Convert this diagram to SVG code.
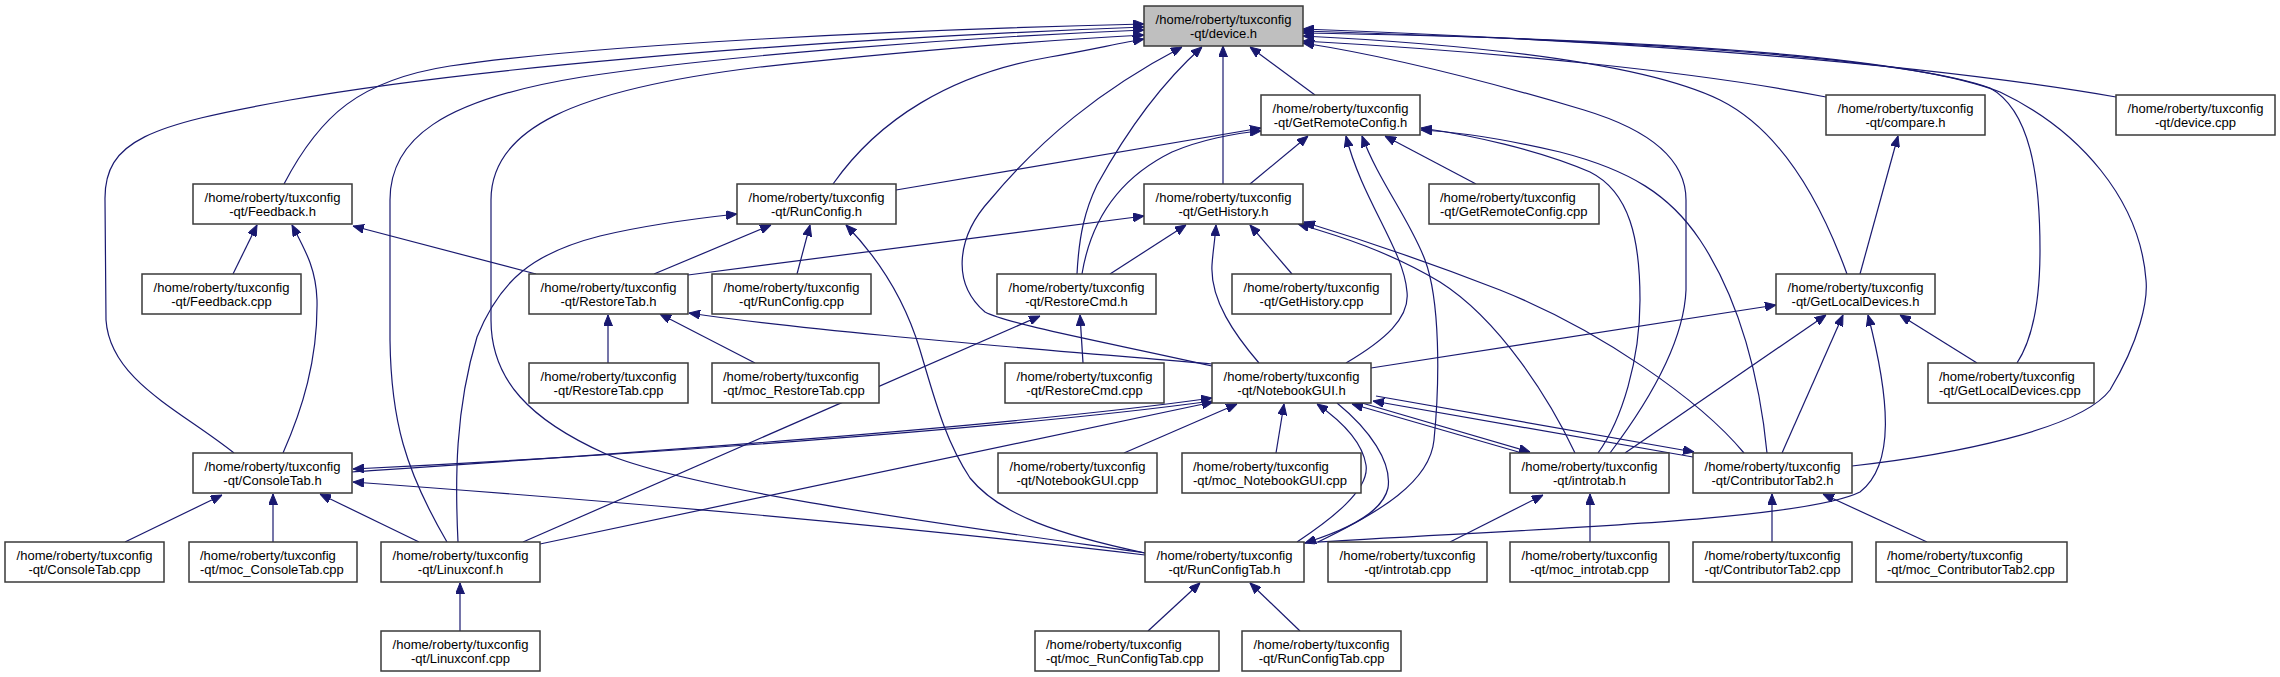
<svg xmlns="http://www.w3.org/2000/svg" width="2280" height="677" viewBox="0 0 2280 677">
<style>
.n rect{fill:#ffffff;stroke:#3a3a3a;stroke-width:1.5}
.n text{font-family:"Liberation Sans",Arial,sans-serif;font-size:13px;fill:#000000}
.c text{text-anchor:middle}
.e path{fill:none;stroke:#191970;stroke-width:1.2;marker-end:url(#arr)}
</style>
<defs>
<marker id="arr" markerUnits="userSpaceOnUse" viewBox="0 0 11 9" markerWidth="11" markerHeight="9" refX="11" refY="4.5" orient="auto">
<path d="M0,0 L11,4.5 L0,9 Z" fill="#191970" stroke="#191970" stroke-width="1"/>
</marker>
</defs>
<rect x="0" y="0" width="2280" height="677" fill="#ffffff"/>
<g id="edges" class="e">
<path d="M284,184 C320,115 360,80 450,66 C600,44 900,30 1144,24"/>
<path d="M234,453 C180,410 110,380 106,320 L105,200 C104,140 150,125 290,100 C450,72 750,42 1144,27"/>
<path d="M447,542 C405,470 391,420 390,340 L390,200 C390,140 440,100 582,77 C720,56 950,38 1144,30"/>
<path d="M1145,553 C950,525 700,492 606,454 C530,420 491,380 491,320 L491,200 C491,130 570,90 760,67 C900,52 1050,40 1144,35"/>
<path d="M833,184 C878,120 950,74 1050,57 C1090,50 1120,43 1144,39"/>
<path d="M1212,366 C1120,345 1010,325 985,312 C950,282 958,235 990,200 C1040,140 1100,90 1182,47"/>
<path d="M1077,274 C1079,235 1085,210 1097,185 C1130,125 1165,80 1202,47"/>
<path d="M1223,184 L1223,46"/>
<path d="M1315,95 L1250,47"/>
<path d="M1826,97 C1700,72 1500,52 1303,41"/>
<path d="M2116,97 C1960,70 1700,44 1303,29"/>
<path d="M1847,274 C1820,200 1780,130 1720,100 C1650,66 1500,46 1303,36"/>
<path d="M2017,363 C2032,340 2040,300 2040,250 C2040,175 2030,110 1990,88 C1900,55 1600,40 1303,31"/>
<path d="M1610,453 C1650,400 1684,340 1686,290 L1686,200 C1686,160 1650,130 1584,110 C1500,85 1400,58 1303,43"/>
<path d="M1852,466 C1950,455 2080,430 2110,390 C2140,340 2148,300 2146,280 C2140,200 2080,130 2000,92 C1900,52 1600,38 1303,33"/>
<path d="M896,190 L1261,128"/>
<path d="M1082,274 C1090,225 1115,180 1172,152 C1200,140 1235,133 1261,131"/>
<path d="M1250,184 L1308,136"/>
<path d="M1476,184 L1385,136"/>
<path d="M1346,363 C1385,340 1410,318 1407,292 C1404,250 1362,200 1346,136"/>
<path d="M1318,542 C1380,512 1430,482 1434,440 C1440,380 1440,300 1425,260 C1410,220 1378,180 1362,136"/>
<path d="M1598,453 C1622,420 1640,360 1640,300 C1640,240 1630,192 1590,172 C1540,150 1470,135 1421,128"/>
<path d="M1767,453 C1760,380 1740,300 1700,240 C1670,195 1630,170 1560,152 C1500,138 1460,132 1421,130"/>
<path d="M1860,274 L1898,136"/>
<path d="M233,274 L257,225"/>
<path d="M536,274 L353,226"/>
<path d="M283,453 C302,410 318,360 317,300 C316,268 305,250 292,225"/>
<path d="M654,274 L771,225"/>
<path d="M797,274 L810,225"/>
<path d="M458,542 C455,480 455,410 477,337 C500,280 533,253 600,236 C650,224 700,218 737,214"/>
<path d="M1145,553 C1060,535 1000,515 970,478 C945,440 935,400 920,350 C905,300 880,260 846,225"/>
<path d="M688,275 L1144,216"/>
<path d="M1110,274 L1186,225"/>
<path d="M1292,274 L1250,225"/>
<path d="M1259,363 C1235,335 1210,300 1212,265 C1213,250 1215,240 1216,225"/>
<path d="M1575,453 C1550,400 1500,320 1440,282 C1390,252 1340,236 1298,224"/>
<path d="M1744,453 C1700,400 1600,330 1500,290 C1410,255 1350,236 1304,222"/>
<path d="M608,363 L608,315"/>
<path d="M755,363 L660,314"/>
<path d="M1212,364 C1000,346 800,330 689,313"/>
<path d="M1083,363 L1080,315"/>
<path d="M523,542 L1040,316"/>
<path d="M1371,368 L1776,305"/>
<path d="M1625,453 L1826,315"/>
<path d="M1782,453 L1843,315"/>
<path d="M1304,543 C1500,530 1800,522 1860,492 C1895,465 1890,400 1868,315"/>
<path d="M1977,363 L1900,315"/>
<path d="M1124,453 L1237,404"/>
<path d="M1276,453 L1284,404"/>
<path d="M352,472 C600,455 1000,428 1212,398"/>
<path d="M1212,401 C1000,430 600,457 353,469"/>
<path d="M540,544 L1213,402"/>
<path d="M1297,542 C1330,520 1370,490 1366,465 C1362,440 1340,420 1317,404"/>
<path d="M1337,403 C1370,430 1392,462 1388,488 C1382,515 1340,532 1305,543"/>
<path d="M1522,453 L1352,404"/>
<path d="M1362,403 L1530,452"/>
<path d="M1693,457 L1373,401"/>
<path d="M1376,396 L1694,452"/>
<path d="M125,542 L222,495"/>
<path d="M273,542 L273,494"/>
<path d="M419,542 L320,494"/>
<path d="M1145,555 C900,526 600,500 353,482"/>
<path d="M460,631 L460,583"/>
<path d="M1450,542 L1543,495"/>
<path d="M1590,542 L1590,494"/>
<path d="M1772,542 L1772,494"/>
<path d="M1927,542 L1823,494"/>
<path d="M1148,631 L1200,583"/>
<path d="M1300,631 L1250,583"/>
</g>
<g id="device_h" class="n c"><rect x="1144" y="6" width="159" height="40" style="fill:#bfbfbf"/><text x="1223.5" y="23.5">/home/roberty/tuxconfig</text><text x="1223.5" y="37.5">-qt/device.h</text></g>
<g id="GetRemoteConfig_h" class="n c"><rect x="1261" y="95" width="159" height="40"/><text x="1340.5" y="112.5">/home/roberty/tuxconfig</text><text x="1340.5" y="126.5">-qt/GetRemoteConfig.h</text></g>
<g id="compare_h" class="n c"><rect x="1826" y="95" width="159" height="40"/><text x="1905.5" y="112.5">/home/roberty/tuxconfig</text><text x="1905.5" y="126.5">-qt/compare.h</text></g>
<g id="device_cpp" class="n c"><rect x="2116" y="95" width="159" height="40"/><text x="2195.5" y="112.5">/home/roberty/tuxconfig</text><text x="2195.5" y="126.5">-qt/device.cpp</text></g>
<g id="Feedback_h" class="n c"><rect x="193" y="184" width="159" height="40"/><text x="272.5" y="201.5">/home/roberty/tuxconfig</text><text x="272.5" y="215.5">-qt/Feedback.h</text></g>
<g id="RunConfig_h" class="n c"><rect x="737" y="184" width="159" height="40"/><text x="816.5" y="201.5">/home/roberty/tuxconfig</text><text x="816.5" y="215.5">-qt/RunConfig.h</text></g>
<g id="GetHistory_h" class="n c"><rect x="1144" y="184" width="159" height="40"/><text x="1223.5" y="201.5">/home/roberty/tuxconfig</text><text x="1223.5" y="215.5">-qt/GetHistory.h</text></g>
<g id="GetRemoteConfig_cpp" class="n"><rect x="1429" y="184" width="170" height="40"/><text x="1440" y="201.5">/home/roberty/tuxconfig</text><text x="1440" y="215.5">-qt/GetRemoteConfig.cpp</text></g>
<g id="Feedback_cpp" class="n c"><rect x="142" y="274" width="159" height="40"/><text x="221.5" y="291.5">/home/roberty/tuxconfig</text><text x="221.5" y="305.5">-qt/Feedback.cpp</text></g>
<g id="RestoreTab_h" class="n c"><rect x="529" y="274" width="159" height="40"/><text x="608.5" y="291.5">/home/roberty/tuxconfig</text><text x="608.5" y="305.5">-qt/RestoreTab.h</text></g>
<g id="RunConfig_cpp" class="n c"><rect x="712" y="274" width="159" height="40"/><text x="791.5" y="291.5">/home/roberty/tuxconfig</text><text x="791.5" y="305.5">-qt/RunConfig.cpp</text></g>
<g id="RestoreCmd_h" class="n c"><rect x="997" y="274" width="159" height="40"/><text x="1076.5" y="291.5">/home/roberty/tuxconfig</text><text x="1076.5" y="305.5">-qt/RestoreCmd.h</text></g>
<g id="GetHistory_cpp" class="n c"><rect x="1232" y="274" width="159" height="40"/><text x="1311.5" y="291.5">/home/roberty/tuxconfig</text><text x="1311.5" y="305.5">-qt/GetHistory.cpp</text></g>
<g id="GetLocalDevices_h" class="n c"><rect x="1776" y="274" width="159" height="40"/><text x="1855.5" y="291.5">/home/roberty/tuxconfig</text><text x="1855.5" y="305.5">-qt/GetLocalDevices.h</text></g>
<g id="RestoreTab_cpp" class="n c"><rect x="529" y="363" width="159" height="40"/><text x="608.5" y="380.5">/home/roberty/tuxconfig</text><text x="608.5" y="394.5">-qt/RestoreTab.cpp</text></g>
<g id="moc_RestoreTab_cpp" class="n"><rect x="712" y="363" width="167" height="40"/><text x="723" y="380.5">/home/roberty/tuxconfig</text><text x="723" y="394.5">-qt/moc_RestoreTab.cpp</text></g>
<g id="RestoreCmd_cpp" class="n c"><rect x="1005" y="363" width="159" height="40"/><text x="1084.5" y="380.5">/home/roberty/tuxconfig</text><text x="1084.5" y="394.5">-qt/RestoreCmd.cpp</text></g>
<g id="NotebookGUI_h" class="n c"><rect x="1212" y="363" width="159" height="40"/><text x="1291.5" y="380.5">/home/roberty/tuxconfig</text><text x="1291.5" y="394.5">-qt/NotebookGUI.h</text></g>
<g id="GetLocalDevices_cpp" class="n"><rect x="1928" y="363" width="166" height="40"/><text x="1939" y="380.5">/home/roberty/tuxconfig</text><text x="1939" y="394.5">-qt/GetLocalDevices.cpp</text></g>
<g id="ConsoleTab_h" class="n c"><rect x="193" y="453" width="159" height="40"/><text x="272.5" y="470.5">/home/roberty/tuxconfig</text><text x="272.5" y="484.5">-qt/ConsoleTab.h</text></g>
<g id="NotebookGUI_cpp" class="n c"><rect x="998" y="453" width="159" height="40"/><text x="1077.5" y="470.5">/home/roberty/tuxconfig</text><text x="1077.5" y="484.5">-qt/NotebookGUI.cpp</text></g>
<g id="moc_NotebookGUI_cpp" class="n"><rect x="1182" y="453" width="179" height="40"/><text x="1193" y="470.5">/home/roberty/tuxconfig</text><text x="1193" y="484.5">-qt/moc_NotebookGUI.cpp</text></g>
<g id="introtab_h" class="n c"><rect x="1510" y="453" width="159" height="40"/><text x="1589.5" y="470.5">/home/roberty/tuxconfig</text><text x="1589.5" y="484.5">-qt/introtab.h</text></g>
<g id="ContributorTab2_h" class="n c"><rect x="1693" y="453" width="159" height="40"/><text x="1772.5" y="470.5">/home/roberty/tuxconfig</text><text x="1772.5" y="484.5">-qt/ContributorTab2.h</text></g>
<g id="ConsoleTab_cpp" class="n c"><rect x="5" y="542" width="159" height="40"/><text x="84.5" y="559.5">/home/roberty/tuxconfig</text><text x="84.5" y="573.5">-qt/ConsoleTab.cpp</text></g>
<g id="moc_ConsoleTab_cpp" class="n"><rect x="189" y="542" width="168" height="40"/><text x="200" y="559.5">/home/roberty/tuxconfig</text><text x="200" y="573.5">-qt/moc_ConsoleTab.cpp</text></g>
<g id="Linuxconf_h" class="n c"><rect x="381" y="542" width="159" height="40"/><text x="460.5" y="559.5">/home/roberty/tuxconfig</text><text x="460.5" y="573.5">-qt/Linuxconf.h</text></g>
<g id="RunConfigTab_h" class="n c"><rect x="1145" y="542" width="159" height="40"/><text x="1224.5" y="559.5">/home/roberty/tuxconfig</text><text x="1224.5" y="573.5">-qt/RunConfigTab.h</text></g>
<g id="introtab_cpp" class="n c"><rect x="1328" y="542" width="159" height="40"/><text x="1407.5" y="559.5">/home/roberty/tuxconfig</text><text x="1407.5" y="573.5">-qt/introtab.cpp</text></g>
<g id="moc_introtab_cpp" class="n c"><rect x="1510" y="542" width="159" height="40"/><text x="1589.5" y="559.5">/home/roberty/tuxconfig</text><text x="1589.5" y="573.5">-qt/moc_introtab.cpp</text></g>
<g id="ContributorTab2_cpp" class="n c"><rect x="1693" y="542" width="159" height="40"/><text x="1772.5" y="559.5">/home/roberty/tuxconfig</text><text x="1772.5" y="573.5">-qt/ContributorTab2.cpp</text></g>
<g id="moc_ContributorTab2_cpp" class="n"><rect x="1876" y="542" width="191" height="40"/><text x="1887" y="559.5">/home/roberty/tuxconfig</text><text x="1887" y="573.5">-qt/moc_ContributorTab2.cpp</text></g>
<g id="Linuxconf_cpp" class="n c"><rect x="381" y="631" width="159" height="40"/><text x="460.5" y="648.5">/home/roberty/tuxconfig</text><text x="460.5" y="662.5">-qt/Linuxconf.cpp</text></g>
<g id="moc_RunConfigTab_cpp" class="n"><rect x="1035" y="631" width="184" height="40"/><text x="1046" y="648.5">/home/roberty/tuxconfig</text><text x="1046" y="662.5">-qt/moc_RunConfigTab.cpp</text></g>
<g id="RunConfigTab_cpp" class="n c"><rect x="1242" y="631" width="159" height="40"/><text x="1321.5" y="648.5">/home/roberty/tuxconfig</text><text x="1321.5" y="662.5">-qt/RunConfigTab.cpp</text></g>
</svg>
